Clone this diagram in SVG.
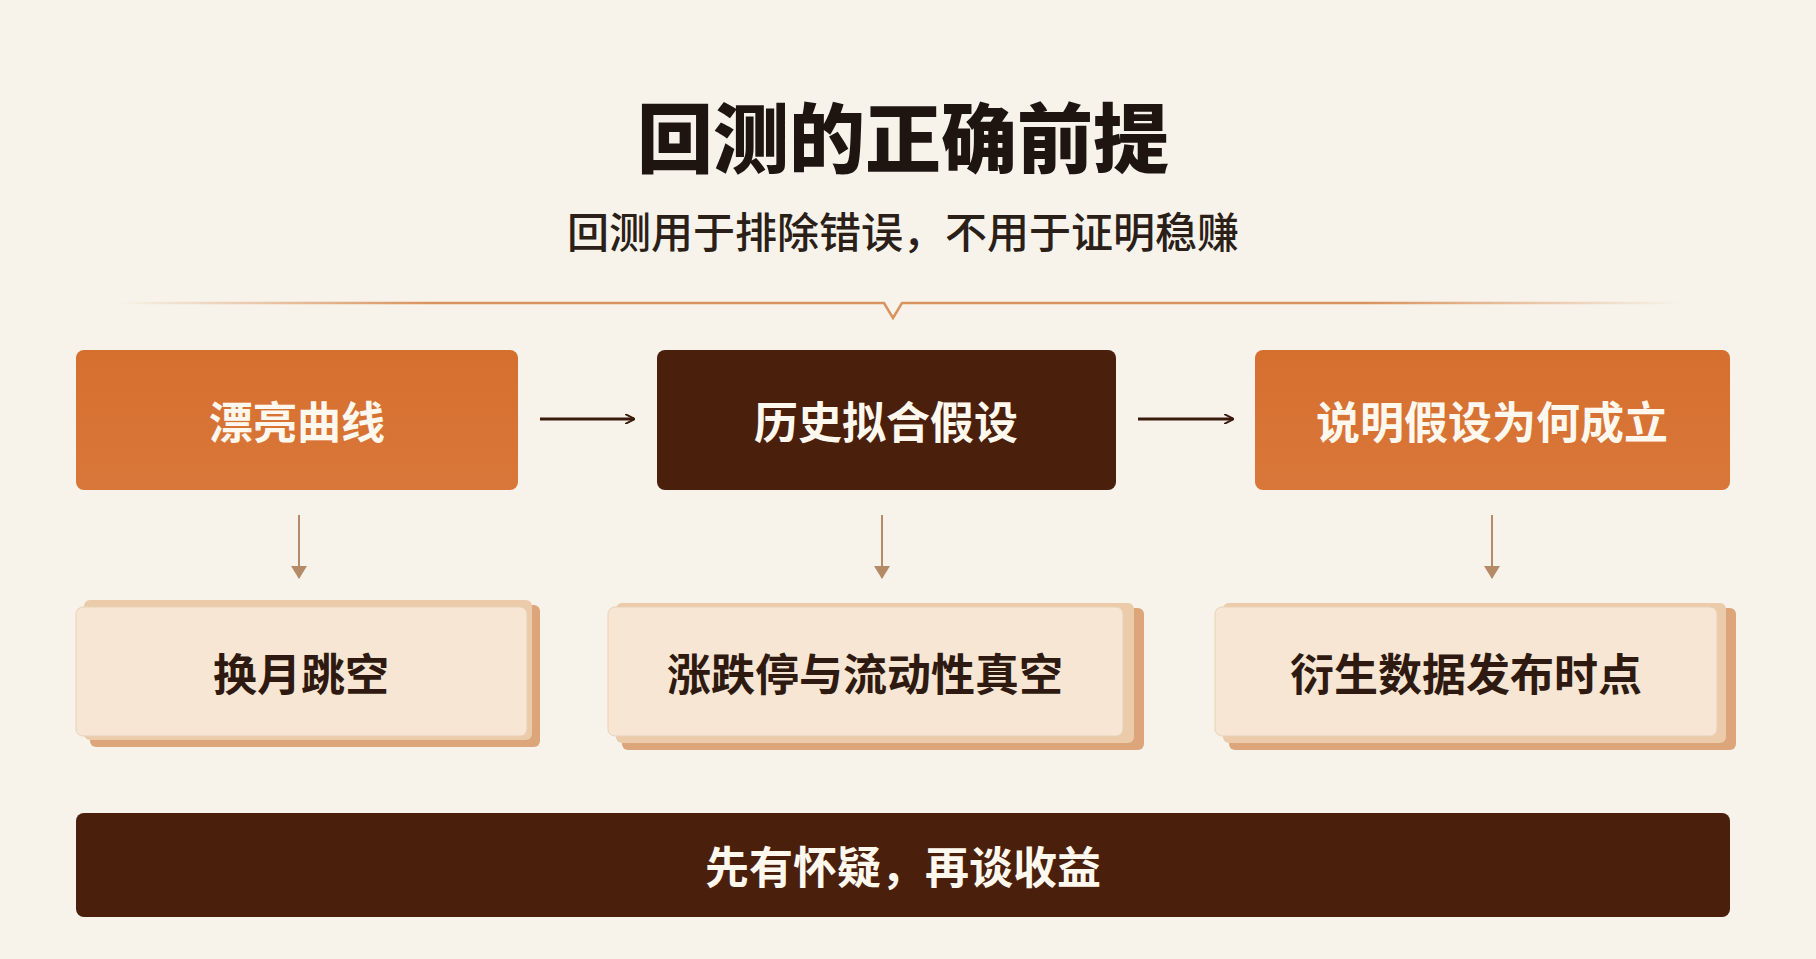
<svg xmlns="http://www.w3.org/2000/svg" width="1816" height="959" viewBox="0 0 1816 959">
<defs>
<linearGradient id="og" x1="0" y1="0" x2="0" y2="1"><stop offset="0" stop-color="#D56F2E"/><stop offset="1" stop-color="#D9773A"/></linearGradient>
<linearGradient id="ln" x1="0" x2="1"><stop offset="0" stop-color="#D9935F" stop-opacity="0"/><stop offset="0.2" stop-color="#D9935F"/><stop offset="0.8" stop-color="#D9935F"/><stop offset="1" stop-color="#D9935F" stop-opacity="0"/></linearGradient>
<linearGradient id="ln2" x1="0" x2="1"><stop offset="0" stop-color="#D8B89A" stop-opacity="0"/><stop offset="0.15" stop-color="#D8B89A"/><stop offset="0.85" stop-color="#D8B89A"/><stop offset="1" stop-color="#D8B89A" stop-opacity="0"/></linearGradient>
<marker id="ah" markerWidth="10" markerHeight="10" refX="9" refY="5" orient="auto" markerUnits="userSpaceOnUse" viewBox="0 0 10 10"><path d="M0,0 L10,5 L0,10" fill="none" stroke="#3A1A0C" stroke-width="2"/></marker>
<marker id="dh" markerWidth="16" markerHeight="14" refX="8" refY="12" orient="0" markerUnits="userSpaceOnUse"><path d="M0,0 L16,0 L8,13 Z" fill="#B58A66"/></marker>
</defs>
<style>
text{font-family:"Noto Sans CJK SC","Noto Sans",sans-serif;text-anchor:middle;dominant-baseline:central}
.w{fill:#FFF8EE;font-size:44px;font-weight:700}
.d{fill:#2E1A10;font-size:44px;font-weight:700}
.back2{fill:#DDA57A}
.back1{fill:#EBCBAA}
.card{fill:#F6E6D3;stroke:#E8D2B8;stroke-width:1}
</style>
<rect width="1816" height="959" fill="#F7F3EA"/>
<text x="903" y="134" style="font-size:76px;font-weight:900;fill:#1E1410">回测的正确前提</text>
<text x="903" y="229" style="font-size:42px;font-weight:500;fill:#2A2018">回测用于排除错误，不用于证明稳赚</text>
<path d="M116,303 H884 L893,318 L902,303 H1680" fill="none" stroke="url(#ln)" stroke-width="2.5"/>
<line x1="116" y1="532" x2="1690" y2="532" stroke="url(#ln2)" stroke-width="2.5"/>
<g id="n1"><rect x="76" y="350" width="442" height="140" rx="8" fill="url(#og)"/><text class="w" x="297" y="420">漂亮曲线</text></g>
<g id="n2"><rect x="657" y="350" width="459" height="140" rx="8" fill="#4A1F0C"/><text class="w" x="886" y="420">历史拟合假设</text></g>
<g id="n3"><rect x="1255" y="350" width="475" height="140" rx="8" fill="url(#og)"/><text class="w" x="1492" y="420">说明假设为何成立</text></g>
<g id="c1"><rect class="back2" x="90" y="605" width="450" height="142" rx="6"/><rect class="back1" x="84" y="600" width="448" height="140" rx="6"/><rect class="card" x="76" y="607" width="451" height="129" rx="7"/><text class="d" x="301" y="672">换月跳空</text></g>
<g id="c2"><rect class="back2" x="622" y="608" width="522" height="142" rx="6"/><rect class="back1" x="616" y="603" width="518" height="140" rx="6"/><rect class="card" x="608" y="607" width="515" height="129" rx="7"/><text class="d" x="865" y="672">涨跌停与流动性真空</text></g>
<g id="c3"><rect class="back2" x="1229" y="608" width="507" height="142" rx="6"/><rect class="back1" x="1223" y="603" width="503" height="140" rx="6"/><rect class="card" x="1215" y="607" width="502" height="129" rx="7"/><text class="d" x="1466" y="672">衍生数据发布时点</text></g>
<g id="n4"><rect x="76" y="813" width="1654" height="104" rx="8" fill="#4A1F0C"/><text class="w" x="903" y="865">先有怀疑，再谈收益</text></g>
<g id="connectors" fill="none">
<line x1="540" y1="419" x2="634" y2="419" stroke="#3A1A0C" stroke-width="3" marker-end="url(#ah)"/>
<line x1="1138" y1="419" x2="1233" y2="419" stroke="#3A1A0C" stroke-width="3" marker-end="url(#ah)"/>
<line x1="299" y1="515" x2="299" y2="578" stroke="#B58A66" stroke-width="2" marker-end="url(#dh)"/>
<line x1="882" y1="515" x2="882" y2="578" stroke="#B58A66" stroke-width="2" marker-end="url(#dh)"/>
<line x1="1492" y1="515" x2="1492" y2="578" stroke="#B58A66" stroke-width="2" marker-end="url(#dh)"/>
</g>
</svg>
